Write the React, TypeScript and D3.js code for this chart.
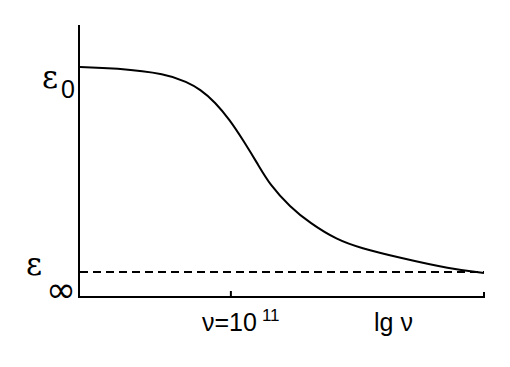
import * as React from "react";
import * as d3 from "d3";

// lg(nu) positions along the curve and the permittivity there
const lgNu = [8.02, 8.71, 9.74, 10.13, 10.39, 10.69, 10.98, 11.24, 11.52, 11.77, 12.17, 12.56, 13.1, 13.55, 14.34, 15.33, 16.0];
const eps = [10.0, 9.96, 9.73, 9.41, 9.14, 8.63, 7.93, 7.15, 6.25, 5.4, 4.54, 3.91, 3.25, 2.94, 2.55, 2.12, 1.96];

const epsInf = 2;
const epsZero = 10;
const markNu = 11; // nu = 10^11

export default function App() {
  const width = 510;
  const height = 367;
  const margin = { top: 25, right: 26, bottom: 70, left: 79 };

  const x = d3.scaleLinear().domain([8, 16]).range([margin.left, width - margin.right]);
  const y = d3.scaleLinear().domain([1.024, 11.64]).range([height - margin.bottom, margin.top]);

  const line = d3
    .line<number>()
    .x((_, i) => x(lgNu[i]))
    .y((d) => y(d))
    .curve(d3.curveBasis);

  const x0 = x(8);
  const x1 = x(16);
  const yb = y(1.024);

  return (
    <svg width={width} height={height} style={{ position: "absolute", left: 0, top: 0, background: "#fff" }}>
      {/* axes */}
      <line x1={x0} x2={x0} y1={margin.top} y2={yb + 1} stroke="#000" strokeWidth={2} />
      <line x1={x0 - 1} x2={x1 + 1} y1={yb} y2={yb} stroke="#000" strokeWidth={2} />
      <line x1={x(markNu)} x2={x(markNu)} y1={yb - 6} y2={yb} stroke="#000" strokeWidth={2} />
      <line x1={x1} x2={x1} y1={yb - 5} y2={yb} stroke="#000" strokeWidth={2} />

      {/* high-frequency limit */}
      <line x1={x0 + 1} x2={x1} y1={y(epsInf)} y2={y(epsInf)} stroke="#000" strokeWidth={2} strokeDasharray="8,5" />

      {/* dispersion curve */}
      <path d={line(eps) ?? ""} fill="none" stroke="#000" strokeWidth={2} />

      {/* y labels */}
      <text x={42} y={y(epsZero) + 21} fontFamily="DejaVu Serif" fontSize={31}>ε</text>
      <text x={61} y={y(epsZero) + 31} fontFamily="Liberation Sans" fontSize={25}>0</text>
      <text x={26} y={y(epsInf) + 3} fontFamily="DejaVu Serif" fontSize={31}>ε</text>
      <text x={46} y={y(epsInf) + 30} fontFamily="DejaVu Sans" fontSize={36}>∞</text>

      {/* x labels */}
      <text x={202} y={331} fontFamily="Liberation Sans" fontSize={25}>
        ν=10
        <tspan fontSize={17} dy={-10} dx={5}>11</tspan>
      </text>
      <text x={374} y={331} fontFamily="Liberation Sans" fontSize={25}>
        lg ν
      </text>
    </svg>
  );
}
